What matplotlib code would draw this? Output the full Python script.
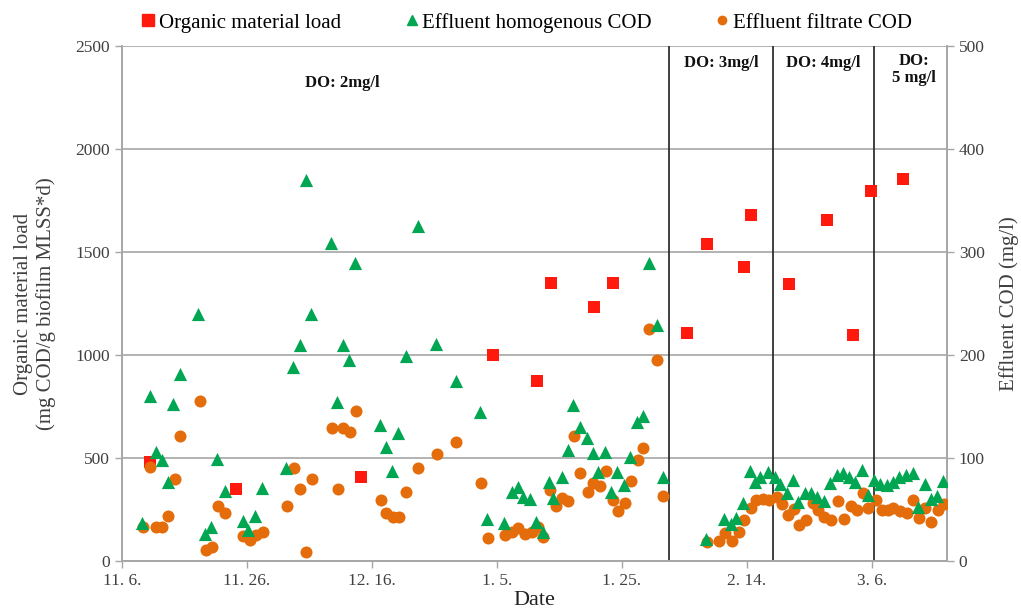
import matplotlib
matplotlib.use("Agg")
import matplotlib.pyplot as plt
from matplotlib.lines import Line2D

plt.rcParams['font.family'] = ['Liberation Serif', 'DejaVu Serif']

# x = days since 11.6.
tick_days = [0, 20, 40, 60, 80, 100, 120]
tick_labels = ["11. 6.", "11. 26.", "12. 16.", "1. 5.", "1. 25.", "2. 14.", "3. 6."]

# organic material load (left axis)
load_days = [4.5, 18.3, 38.3, 59.4, 66.4, 68.6, 75.5, 78.5, 90.4, 93.6, 99.6,
             100.7, 106.7, 112.8, 116.9, 119.8, 124.9]
load_vals = [479, 349, 409, 1000, 875, 1351, 1231, 1351, 1105, 1541, 1426,
             1682, 1347, 1654, 1097, 1795, 1856]

# effluent homogenous COD (right axis)
hom_days = [3.2, 4.4, 5.4, 6.4, 7.3, 8.2, 9.2, 12.2, 13.3, 14.2, 15.2, 16.4,
            19.3, 20.2, 21.2, 22.4, 26.2, 27.4, 28.4, 29.4, 30.2, 33.4, 34.4,
            35.3, 36.3, 37.2, 41.3, 42.2, 43.2, 44.2, 45.4, 47.3, 50.2, 53.4,
            57.3, 58.4, 61.1, 62.4, 63.3, 64.2, 65.3, 66.2, 67.3, 68.4, 69.0,
            70.4, 71.3, 72.2, 73.3, 74.4, 75.4, 76.2, 77.3, 78.2, 79.2, 80.4,
            81.3, 82.4, 83.4, 84.3, 85.6, 86.5, 93.4, 96.3, 97.5, 98.3, 99.4,
            100.5, 101.3, 102.1, 103.4, 104.5, 105.3, 106.4, 107.4, 108.2,
            109.3, 110.2, 111.2, 112.4, 113.3, 114.4, 115.4, 116.4, 117.3,
            118.4, 119.4, 120.4, 121.3, 122.4, 123.3, 124.4, 125.5, 126.6,
            127.4, 128.5, 129.4, 130.4, 131.4]
hom_vals = [36.6, 160.5, 106, 98, 77, 152, 181.5, 240, 26, 32.7, 98.7, 68,
            39, 30, 43.7, 71, 90, 188, 209.7, 370, 240, 309, 154.7,
            209.7, 195, 289, 132, 111, 87.7, 124, 199, 325, 211, 175,
            145, 40.8, 36.6, 67.3, 71.5, 62.5, 60, 38, 28.5, 76.4, 61,
            81.3, 107.8, 151.5, 130.4, 119, 104.6, 86.7, 105.5, 67.3, 86.7, 73.8,
            101, 134.7, 140.8, 289.6, 229, 81.8, 21, 41, 36, 42, 56,
            87, 76.5, 81.9, 86.7, 81.9, 74.8, 65.7, 78.6, 57.6,
            65.7, 65.7, 62.4, 58.5, 75.4, 83.5, 85.1, 81.9, 77,
            88.4, 64, 78.6, 74.8, 73.8, 77, 81.9, 83.5, 85.1,
            52.7, 74.8, 59.9, 63.1, 78]

# effluent filtrate COD (right axis)
fil_days = [3.3, 4.5, 5.4, 6.4, 7.4, 8.4, 9.3, 12.4, 13.4, 14.4, 15.3, 16.5,
            19.3, 20.4, 21.4, 22.6, 26.4, 27.5, 28.5, 29.5, 30.4, 33.6, 34.5,
            35.4, 36.5, 37.4, 41.5, 42.3, 43.3, 44.3, 45.5, 47.4, 50.4, 53.4,
            57.5, 58.5, 61.3, 62.4, 63.4, 64.5, 65.6, 66.5, 67.3, 68.5, 69.4,
            70.4, 71.4, 72.3, 73.3, 74.5, 75.4, 76.5, 77.5, 78.5, 79.3, 80.5,
            81.5, 82.5, 83.4, 84.4, 85.6, 86.6, 93.6, 95.5, 96.5, 97.6, 98.7,
            99.6, 100.6, 101.5, 102.6, 103.6, 104.8, 105.6, 106.6, 107.6,
            108.4, 109.4, 110.6, 111.4, 112.4, 113.4, 114.6, 115.6, 116.7,
            117.6, 118.5, 119.4, 120.6, 121.6, 122.5, 123.4, 124.5, 125.6,
            126.6, 127.5, 128.5, 129.4, 130.5, 131.6]
fil_vals = [33.3, 91, 32.7, 32.7, 44, 79.3, 121.4, 155.6, 10.7, 13.9, 53.7, 46.9,
            24.6, 20.4, 25.2, 28.5, 53.7, 90, 70, 9, 79.3, 129.5, 70,
            129.5, 125, 145.6, 59.2, 46.3, 42.4, 43, 67.3, 90, 103.6, 115.8,
            75.4, 22, 25.2, 28.5, 31.7, 26.2, 28.5, 33.3, 23, 68.9, 53.7,
            60.9, 58.5, 121.4, 85.1, 67.3, 75.4, 72.8, 87.7, 59.2, 48.8, 56.6,
            78, 98, 109.4, 225, 195, 63, 18, 19.3, 27.5, 19.3, 28.5,
            40, 51.5, 59.2, 59.9, 59.2, 62.4, 55.3, 44.7, 50.2,
            35, 39.8, 56, 49.5, 43, 39.8, 58.3, 40.5, 53.4,
            49.5, 65.7, 51.2, 59.2, 49.5, 49.5, 51.2, 48.5, 46.9,
            59.2, 41.5, 51.7, 38.2, 49.5, 55.3]

# phase boundaries (days)
phase_days = [87.6, 104.1, 120.4]

red = "#ff1a0d"
green = "#00a651"
orange = "#e46c0a"
grey = "#a6a6a6"

fig = plt.figure(figsize=(10.21, 6.15), dpi=100)
ax = fig.add_axes([0.1195, 0.088, 0.808, 0.837])
ax2 = ax.twinx()

ax.set_xlim(0, 132)
ax.set_ylim(0, 2500)
ax2.set_ylim(0, 500)
ax.set_yticks(range(0, 2501, 500))
ax2.set_yticks(range(0, 501, 100))
ax.set_xticks(tick_days)
ax.set_xticklabels(tick_labels)

ax.grid(axis="y", color=grey, lw=1.2)
ax.set_axisbelow(True)
for a in (ax, ax2):
    for s in a.spines.values():
        s.set_color(grey)
        s.set_linewidth(1.2)
    a.spines["top"].set_visible(False)
    a.tick_params(colors=grey, labelcolor="#404040", labelsize=12.5, length=5, width=1)

for d in phase_days:
    ax.axvline(d, color="#303030", lw=1.3, zorder=1)

ax.scatter(load_days, load_vals, marker="s", s=75, color=red, zorder=5, lw=0)
ax2.scatter(hom_days, hom_vals, marker="^", s=90, color=green, zorder=4, lw=0)
ax2.scatter(fil_days, fil_vals, marker="o", s=75, color=orange, zorder=3, lw=0)

ax.set_ylabel("Organic material load\n(mg COD/g biofilm MLSS*d)", fontsize=15,
              color="#404040", labelpad=14)
ax2.set_ylabel("Effluent COD (mg/l)", fontsize=15, color="#404040", labelpad=10)
ax.set_xlabel("Date", fontsize=16, color="#222222", labelpad=2)

kw = dict(transform=ax.transAxes, ha="center", va="center", fontsize=12,
          fontweight="bold", color="#111111")
ax.text(0.267, 0.928, "DO: 2mg/l", **kw)
ax.text(0.726, 0.967, "DO: 3mg/l", **kw)
ax.text(0.850, 0.967, "DO: 4mg/l", **kw)
ax.text(0.960, 0.955, "DO:\n5 mg/l", linespacing=1.1, **kw)

handles = [
    Line2D([], [], marker="s", color=red, ls="", markersize=8),
    Line2D([], [], marker="^", color=green, ls="", markersize=7),
    Line2D([], [], marker="o", color=orange, ls="", markersize=6),
]
labels = ["Organic material load", "Effluent homogenous COD", "Effluent filtrate COD"]
fig.legend(handles, labels, loc="center", bbox_to_anchor=(0.515, 0.963), ncol=3,
           frameon=False, fontsize=15, handletextpad=0.1, columnspacing=3.0,
           handlelength=0.8)

fig.savefig("out.png", dpi=100)
